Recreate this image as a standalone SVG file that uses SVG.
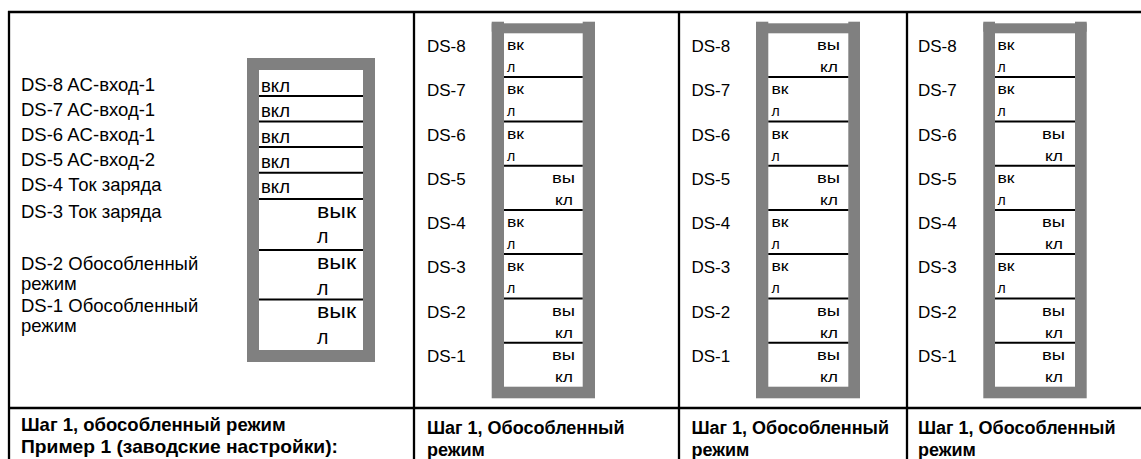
<svg xmlns="http://www.w3.org/2000/svg" width="1141" height="459" viewBox="0 0 1141 459">
<style>
.t{font-family:"Liberation Sans",Arial,sans-serif;font-size:17px;fill:#000}
.t1{font-family:"Liberation Sans",Arial,sans-serif;font-size:18.5px;fill:#000}
.w{font-family:"Liberation Sans",Arial,sans-serif;font-size:19.5px;fill:#000}
.s{font-family:"Liberation Sans",Arial,sans-serif;font-size:14px;fill:#000}
.b{font-family:"Liberation Sans",Arial,sans-serif;font-size:18px;font-weight:bold;fill:#000}
.b1{font-family:"Liberation Sans",Arial,sans-serif;font-size:18.5px;font-weight:bold;fill:#000}
.grid{stroke:#000;stroke-width:2.3;fill:none}
.div{stroke:#000;stroke-width:2;fill:none}
.frame{fill:#808080}
.inner{fill:#fff}
</style>
<rect x="0" y="0" width="1141" height="459" fill="#fff"/>
<g id="grid" class="grid">
<line x1="8" y1="12" x2="1141" y2="12"/>
<line x1="9" y1="11" x2="9" y2="459"/>
<line x1="414" y1="11" x2="414" y2="459"/>
<line x1="679" y1="11" x2="679" y2="459"/>
<line x1="907" y1="11" x2="907" y2="459"/>
<line x1="8" y1="408" x2="1141" y2="408"/>
</g>
<g id="panel1">
<g id="labels1" class="t1">
<text x="21" y="91">DS-8 AC-вход-1</text>
<text x="21" y="116">DS-7 AC-вход-1</text>
<text x="21" y="141">DS-6 AC-вход-1</text>
<text x="21" y="166">DS-5 AC-вход-2</text>
<text x="21" y="191">DS-4 Ток заряда</text>
<text x="21" y="218">DS-3 Ток заряда</text>
<text x="21" y="270">DS-2 Обособленный</text>
<text x="21" y="290">режим</text>
<text x="21" y="312">DS-1 Обособленный</text>
<text x="21" y="332">режим</text>
</g>
<g id="switch1">
<rect class="frame" x="247" y="58" width="128" height="304"/>
<rect class="inner" x="259" y="70" width="104" height="280"/>
<g class="div">
<line x1="259" y1="96" x2="363" y2="96"/>
<line x1="259" y1="121.5" x2="363" y2="121.5"/>
<line x1="259" y1="147" x2="363" y2="147"/>
<line x1="259" y1="172.7" x2="363" y2="172.7"/>
<line x1="259" y1="199" x2="363" y2="199"/>
<line x1="259" y1="250" x2="363" y2="250"/>
<line x1="259" y1="299.5" x2="363" y2="299.5"/>
</g>
<g class="t1">
<text x="261" y="92">вкл</text>
<text x="261" y="117">вкл</text>
<text x="261" y="142.5">вкл</text>
<text x="261" y="168">вкл</text>
<text x="261" y="193">вкл</text>
</g>
<g class="w">
<text x="317" y="218" textLength="39" lengthAdjust="spacingAndGlyphs">вык</text>
<text x="317" y="243">л</text>
<text x="317" y="269" textLength="39" lengthAdjust="spacingAndGlyphs">вык</text>
<text x="317" y="295">л</text>
<text x="317" y="318" textLength="39" lengthAdjust="spacingAndGlyphs">вык</text>
<text x="317" y="344">л</text>
</g>
</g>
<g class="b1">
<text x="21" y="431">Шаг 1, обособленный режим</text>
<text x="21" y="453" textLength="317" lengthAdjust="spacingAndGlyphs">Пример 1 (заводские настройки):</text>
</g>
</g>
<g id="panel2">
<g class="t">
<text x="427" y="52">DS-8</text>
<text x="427" y="96">DS-7</text>
<text x="427" y="140.5">DS-6</text>
<text x="427" y="184.5">DS-5</text>
<text x="427" y="229">DS-4</text>
<text x="427" y="273">DS-3</text>
<text x="427" y="317.5">DS-2</text>
<text x="427" y="361.5">DS-1</text>
</g>
<g id="switch2">
<rect class="frame" x="491.7" y="23.3" width="103.3" height="375"/>
<rect class="frame" x="491.7" y="21.7" width="12.3" height="10"/>
<rect class="frame" x="582.7" y="21.7" width="12.3" height="10"/>
<rect class="inner" x="504" y="33.3" width="78.7" height="353.4"/>
<g class="div">
<line x1="504" y1="77" x2="582.7" y2="77"/>
<line x1="504" y1="121.5" x2="582.7" y2="121.5"/>
<line x1="504" y1="165.8" x2="582.7" y2="165.8"/>
<line x1="504" y1="210" x2="582.7" y2="210"/>
<line x1="504" y1="254" x2="582.7" y2="254"/>
<line x1="504" y1="298.5" x2="582.7" y2="298.5"/>
<line x1="504" y1="342.8" x2="582.7" y2="342.8"/>
</g>
<g class="s">
<text x="507" y="50" textLength="17" lengthAdjust="spacingAndGlyphs">вк</text><text x="507" y="72">л</text>
<text x="507" y="94" textLength="17" lengthAdjust="spacingAndGlyphs">вк</text><text x="507" y="116">л</text>
<text x="507" y="138.5" textLength="17" lengthAdjust="spacingAndGlyphs">вк</text><text x="507" y="160.5">л</text>
<text x="552" y="183" textLength="23" lengthAdjust="spacingAndGlyphs">вы</text><text x="555" y="205" textLength="18" lengthAdjust="spacingAndGlyphs">кл</text>
<text x="507" y="227" textLength="17" lengthAdjust="spacingAndGlyphs">вк</text><text x="507" y="249">л</text>
<text x="507" y="271" textLength="17" lengthAdjust="spacingAndGlyphs">вк</text><text x="507" y="293">л</text>
<text x="552" y="315.5" textLength="23" lengthAdjust="spacingAndGlyphs">вы</text><text x="555" y="337.5" textLength="18" lengthAdjust="spacingAndGlyphs">кл</text>
<text x="552" y="360" textLength="23" lengthAdjust="spacingAndGlyphs">вы</text><text x="555" y="382" textLength="18" lengthAdjust="spacingAndGlyphs">кл</text>
</g>
</g>
<g class="b">
<text x="427" y="434">Шаг 1, Обособленный</text>
<text x="427" y="456">режим</text>
</g>
</g>
<g id="panel3">
<g class="t">
<text x="691.5" y="52">DS-8</text>
<text x="691.5" y="96">DS-7</text>
<text x="691.5" y="140.5">DS-6</text>
<text x="691.5" y="184.5">DS-5</text>
<text x="691.5" y="229">DS-4</text>
<text x="691.5" y="273">DS-3</text>
<text x="691.5" y="317.5">DS-2</text>
<text x="691.5" y="361.5">DS-1</text>
</g>
<g id="switch3">
<rect class="frame" x="756" y="23.3" width="104" height="375"/>
<rect class="frame" x="756" y="21.7" width="12.3" height="10"/>
<rect class="frame" x="848.3" y="21.7" width="11.7" height="10"/>
<rect class="inner" x="768.3" y="33.3" width="80" height="353.4"/>
<g class="div">
<line x1="768.3" y1="77" x2="848.3" y2="77"/>
<line x1="768.3" y1="121.5" x2="848.3" y2="121.5"/>
<line x1="768.3" y1="165.8" x2="848.3" y2="165.8"/>
<line x1="768.3" y1="210" x2="848.3" y2="210"/>
<line x1="768.3" y1="254" x2="848.3" y2="254"/>
<line x1="768.3" y1="298.5" x2="848.3" y2="298.5"/>
<line x1="768.3" y1="342.8" x2="848.3" y2="342.8"/>
</g>
<g class="s">
<text x="817" y="50" textLength="23" lengthAdjust="spacingAndGlyphs">вы</text><text x="820" y="72" textLength="18" lengthAdjust="spacingAndGlyphs">кл</text>
<text x="771.5" y="94" textLength="17" lengthAdjust="spacingAndGlyphs">вк</text><text x="771.5" y="116">л</text>
<text x="771.5" y="138.5" textLength="17" lengthAdjust="spacingAndGlyphs">вк</text><text x="771.5" y="160.5">л</text>
<text x="817" y="183" textLength="23" lengthAdjust="spacingAndGlyphs">вы</text><text x="820" y="205" textLength="18" lengthAdjust="spacingAndGlyphs">кл</text>
<text x="771.5" y="227" textLength="17" lengthAdjust="spacingAndGlyphs">вк</text><text x="771.5" y="249">л</text>
<text x="771.5" y="271" textLength="17" lengthAdjust="spacingAndGlyphs">вк</text><text x="771.5" y="293">л</text>
<text x="817" y="315.5" textLength="23" lengthAdjust="spacingAndGlyphs">вы</text><text x="820" y="337.5" textLength="18" lengthAdjust="spacingAndGlyphs">кл</text>
<text x="817" y="360" textLength="23" lengthAdjust="spacingAndGlyphs">вы</text><text x="820" y="382" textLength="18" lengthAdjust="spacingAndGlyphs">кл</text>
</g>
</g>
<g class="b">
<text x="691.5" y="434">Шаг 1, Обособленный</text>
<text x="691.5" y="456">режим</text>
</g>
</g>
<g id="panel4">
<g class="t">
<text x="918" y="52">DS-8</text>
<text x="918" y="96">DS-7</text>
<text x="918" y="140.5">DS-6</text>
<text x="918" y="184.5">DS-5</text>
<text x="918" y="229">DS-4</text>
<text x="918" y="273">DS-3</text>
<text x="918" y="317.5">DS-2</text>
<text x="918" y="361.5">DS-1</text>
</g>
<g id="switch4">
<rect class="frame" x="983.3" y="23.3" width="103.4" height="375"/>
<rect class="frame" x="983.3" y="21.7" width="11.7" height="10"/>
<rect class="frame" x="1075" y="21.7" width="11.7" height="10"/>
<rect class="inner" x="995" y="33.3" width="80" height="353.4"/>
<g class="div">
<line x1="995" y1="77" x2="1075" y2="77"/>
<line x1="995" y1="121.5" x2="1075" y2="121.5"/>
<line x1="995" y1="165.8" x2="1075" y2="165.8"/>
<line x1="995" y1="210" x2="1075" y2="210"/>
<line x1="995" y1="254" x2="1075" y2="254"/>
<line x1="995" y1="298.5" x2="1075" y2="298.5"/>
<line x1="995" y1="342.8" x2="1075" y2="342.8"/>
</g>
<g class="s">
<text x="997.5" y="50" textLength="17" lengthAdjust="spacingAndGlyphs">вк</text><text x="997.5" y="72">л</text>
<text x="997.5" y="94" textLength="17" lengthAdjust="spacingAndGlyphs">вк</text><text x="997.5" y="116">л</text>
<text x="1042" y="138.5" textLength="23" lengthAdjust="spacingAndGlyphs">вы</text><text x="1045" y="160.5" textLength="18" lengthAdjust="spacingAndGlyphs">кл</text>
<text x="997.5" y="183" textLength="17" lengthAdjust="spacingAndGlyphs">вк</text><text x="997.5" y="205">л</text>
<text x="1042" y="227" textLength="23" lengthAdjust="spacingAndGlyphs">вы</text><text x="1045" y="249" textLength="18" lengthAdjust="spacingAndGlyphs">кл</text>
<text x="997.5" y="271" textLength="17" lengthAdjust="spacingAndGlyphs">вк</text><text x="997.5" y="293">л</text>
<text x="1042" y="315.5" textLength="23" lengthAdjust="spacingAndGlyphs">вы</text><text x="1045" y="337.5" textLength="18" lengthAdjust="spacingAndGlyphs">кл</text>
<text x="1042" y="360" textLength="23" lengthAdjust="spacingAndGlyphs">вы</text><text x="1045" y="382" textLength="18" lengthAdjust="spacingAndGlyphs">кл</text>
</g>
</g>
<g class="b">
<text x="918" y="434">Шаг 1, Обособленный</text>
<text x="918" y="456">режим</text>
</g>
</g>
</svg>
